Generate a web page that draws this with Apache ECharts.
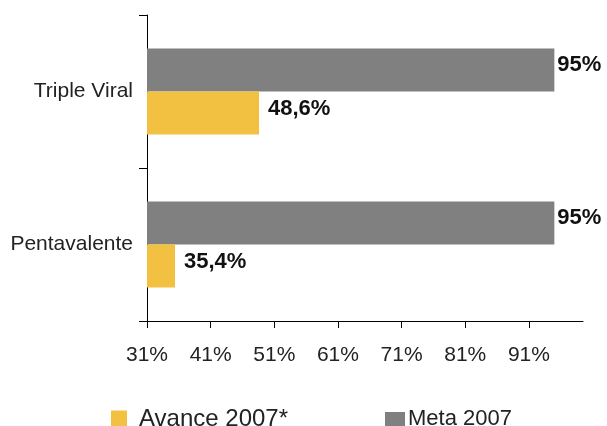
<!DOCTYPE html>
<html>
<head>
<meta charset="utf-8">
<title></title>
    <style>
        * {
            margin: 0;
            padding: 0;
        }
        #main {
            width: 607px;
            height: 426px;
        }
    </style>
</head>
<body>
<div id="main"></div>
<script src="https://cdn.jsdelivr.net/npm/echarts@6/dist/echarts.min.js"></script>
<script>
    var categories = ['Pentavalente', 'Triple Viral'];
    var meta = [95, 95];
    var avance = [35.4, 48.6];
    var ticks = [31, 41, 51, 61, 71, 81, 91];

    var font = '"Liberation Sans", Arial, sans-serif';
    var myChart = echarts.init(document.getElementById('main'));

    function pct(v) {
        return String(v).replace('.', ',') + '%';
    }

    var option = {
        animation: false,
        textStyle: { fontFamily: font },
        grid: {
            left: 147,
            right: 24,
            top: 15,
            bottom: 105
        },
        legend: [
            {
                data: ['Avance 2007*'],
                icon: 'rect',
                left: 111,
                top: 407,
                padding: 0,
                itemWidth: 16,
                itemHeight: 17,
                textStyle: { fontSize: 24, color: '#222', fontFamily: font, padding: [0, 0, 0, 7] }
            },
            {
                data: ['Meta 2007'],
                icon: 'rect',
                left: 385,
                top: 408,
                padding: 0,
                itemWidth: 20,
                itemHeight: 14,
                textStyle: { fontSize: 22, color: '#222', fontFamily: font, padding: [0, 0, 0, -2] }
            }
        ],
        xAxis: {
            type: 'value',
            min: 31,
            max: 99.5,
            interval: 10,
            splitLine: { show: false },
            axisLine: { show: true, lineStyle: { color: '#000', width: 1 } },
            axisTick: { show: true, length: 7, customValues: ticks, lineStyle: { color: '#000' } },
            axisLabel: {
                customValues: ticks,
                margin: 24,
                fontSize: 21,
                color: '#222',
                fontFamily: font,
                formatter: function (v) { return v + '%'; }
            }
        },
        yAxis: {
            type: 'category',
            data: categories,
            axisLine: { show: true, lineStyle: { color: '#000', width: 1 } },
            axisTick: { show: true, length: 8, lineStyle: { color: '#000' } },
            axisLabel: {
                margin: 14,
                fontSize: 21,
                color: '#222',
                fontFamily: font,
                padding: [0, 0, 10, 0]
            }
        },
        series: [
            {
                name: 'Meta 2007',
                type: 'bar',
                data: meta,
                barWidth: 43,
                barGap: 0,
                itemStyle: { color: '#808081' },
                label: {
                    show: true,
                    position: 'right',
                    distance: 3,
                    offset: [0, -5],
                    fontSize: 22,
                    fontWeight: 'bold',
                    color: '#111',
                    fontFamily: font,
                    formatter: function (p) { return pct(p.value); }
                }
            },
            {
                name: 'Avance 2007*',
                type: 'bar',
                data: avance,
                barWidth: 43,
                barGap: 0,
                itemStyle: { color: '#F2C141' },
                label: {
                    show: true,
                    position: 'right',
                    distance: 9,
                    offset: [0, -4],
                    fontSize: 22,
                    fontWeight: 'bold',
                    color: '#111',
                    fontFamily: font,
                    formatter: function (p) { return pct(p.value); }
                }
            }
        ]
    };
    myChart.setOption(option);
</script>
</body>
</html>
